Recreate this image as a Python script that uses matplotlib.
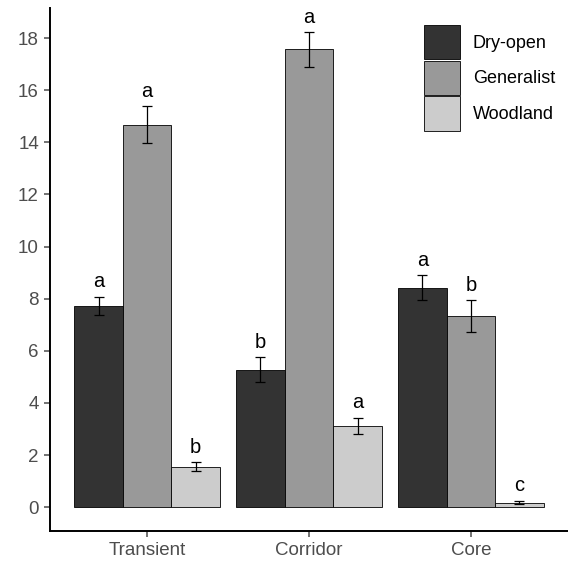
import numpy as np
import matplotlib.pyplot as plt

plt.rcParams['font.family'] = ['Liberation Sans', 'DejaVu Sans']

# datos
sites = ['Transient', 'Corridor', 'Core']
groups = ['Dry-open', 'Generalist', 'Woodland']
means = {
    'Dry-open': [7.73, 5.27, 8.42],
    'Generalist': [14.68, 17.57, 7.33],
    'Woodland': [1.56, 3.13, 0.18],
}
errors = {
    'Dry-open': [0.35, 0.48, 0.48],
    'Generalist': [0.71, 0.67, 0.61],
    'Woodland': [0.18, 0.31, 0.07],
}
letters = {
    'Dry-open': ['a', 'b', 'a'],
    'Generalist': ['a', 'a', 'b'],
    'Woodland': ['b', 'a', 'c'],
}
colors = {'Dry-open': '#333333', 'Generalist': '#999999', 'Woodland': '#cccccc'}
yticks = [0, 2, 4, 6, 8, 10, 12, 14, 16, 18]


def main():
    fig = plt.figure(figsize=(5.68, 5.63), dpi=100)
    ax = fig.add_axes([50 / 568, 32 / 563, 518 / 568, 555 / 563 - 32 / 563])

    x = np.arange(1, len(sites) + 1)
    width = 0.3
    for i, g in enumerate(groups):
        pos = x + (i - 1) * width
        ax.bar(pos, means[g], width, color=colors[g], edgecolor='black',
               linewidth=0.6, label=g, zorder=2)
        ax.errorbar(pos, means[g], yerr=errors[g], fmt='none', ecolor='black',
                    elinewidth=0.9, capsize=3.6, capthick=0.9, zorder=3)
        for p, m, e, l in zip(pos, means[g], errors[g], letters[g]):
            ax.text(p, m + e + 0.2, l, ha='center', va='bottom', fontsize=14.5)

    top = max(max(np.array(means[g]) + np.array(errors[g])) for g in groups)
    ax.set_ylim(-0.05 * top, top * 1.05)
    ax.set_xlim(0.4, 3.6)
    ax.set_xticks(x)
    ax.set_xticklabels(sites)
    ax.set_yticks(yticks)
    ax.tick_params(axis='both', colors='#4d4d4d', labelsize=13.5, length=4.5,
                   width=1.1)
    for s in ['top', 'right']:
        ax.spines[s].set_visible(False)
    for s in ['left', 'bottom']:
        ax.spines[s].set_linewidth(1.4)
        ax.spines[s].set_color('black')

    ax.legend(loc='upper left', bbox_to_anchor=(0.722, 0.9675), frameon=False,
              fontsize=13, handlelength=2.0, handleheight=2.55,
              labelspacing=0.07, handletextpad=0.7, borderpad=0,
              borderaxespad=0)

    plt.savefig('out.png', dpi=100)


if __name__ == "__main__":
    main()
